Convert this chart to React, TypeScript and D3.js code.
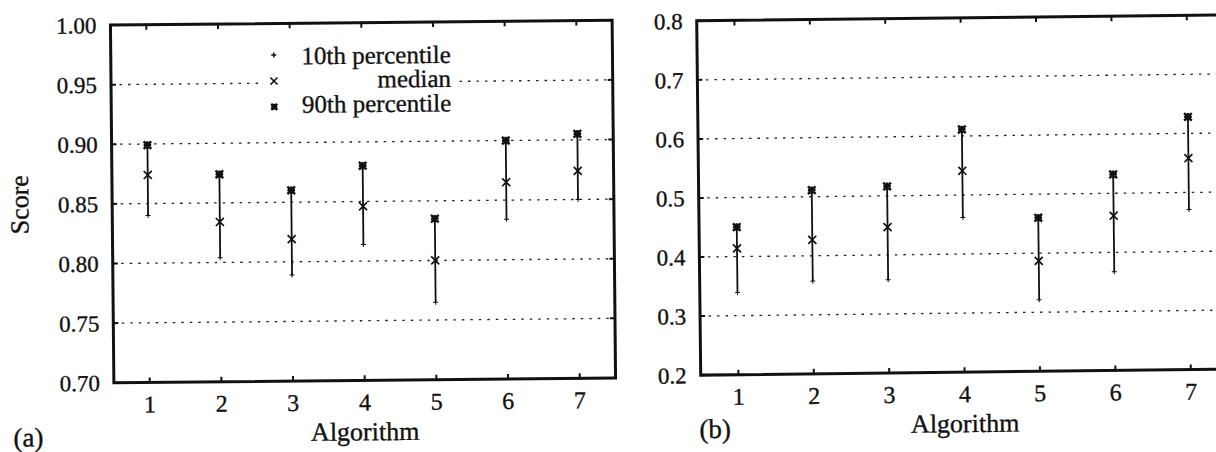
import React from 'react';
import * as d3 from 'd3';

// algorithm ids on the x axis
const algorithms = [1, 2, 3, 4, 5, 6, 7];

// panel (a)
const scoreP10 = [0.840, 0.804, 0.789, 0.814, 0.765, 0.834, 0.850];
const scoreMedian = [0.874, 0.834, 0.819, 0.846, 0.800, 0.865, 0.874];
const scoreP90 = [0.899, 0.874, 0.860, 0.880, 0.835, 0.900, 0.905];
const scoreTicks = [0.70, 0.75, 0.80, 0.85, 0.90, 0.95, 1.00];

// panel (b)
const secondP10 = [0.339, 0.357, 0.358, 0.462, 0.321, 0.367, 0.471];
const secondMedian = [0.414, 0.427, 0.447, 0.541, 0.387, 0.462, 0.558];
const secondP90 = [0.450, 0.511, 0.516, 0.611, 0.460, 0.532, 0.628];
const secondTicks = [0.2, 0.3, 0.4, 0.5, 0.6, 0.7, 0.8];

const legendLabels = ['10th percentile', 'median', '90th percentile'];

const FONT = '"Liberation Serif", "DejaVu Serif", "Times New Roman", serif';
const INK = '#111';

function Marker({ kind, x, y, s }: { kind: string; x: number; y: number; s: number }) {
  const plus = `M${x - s},${y}H${x + s}M${x},${y - s}V${y + s}`;
  const cross = `M${x - s},${y - s}L${x + s},${y + s}M${x - s},${y + s}L${x + s},${y - s}`;
  if (kind === 'plus') return <path d={plus} />;
  if (kind === 'cross') return <path d={cross} />;
  return <path d={plus + cross} strokeWidth={2.4} />;
}

function Panel(props: any) {
  const { cx, cy, w, h, angle, ticks, fmt, p10, med, p90, tag, tagX, score, legend } = props;
  const x = d3.scaleLinear().domain([0.5, 7.5]).range([0, w]);
  const y = d3.scaleLinear().domain([ticks[0], ticks[ticks.length - 1]]).range([h, 0]);
  const inner = ticks.slice(1, -1);

  return (
    <g transform={`translate(${cx},${cy}) rotate(${angle}) translate(${-w / 2},${-h / 2})`}
       style={{ fontFamily: FONT }} fill={INK}>
      {inner.map((t: number) => (
        <line key={'g' + t} x1={0} x2={w} y1={y(t)} y2={y(t)}
              stroke="#222" strokeWidth={1.3} strokeDasharray="2.5 6" />
      ))}

      {legend && (
        <g>
          <rect x={152} y={14} width={191} height={82} fill="white" />
          {legendLabels.map((lab, i) => (
            <g key={lab}>
              <g stroke={INK} strokeWidth={1.5} fill="none">
                <Marker kind={['plus', 'cross', 'star'][i]} x={163} y={[31.6, 57.6, 83.3][i]}
                        s={[2.5, 3.5, 3][i]} />
              </g>
              <text x={340} y={[41, 65, 89.5][i]} fontSize={25} textAnchor="end"
                    stroke={INK} strokeWidth={0.35}>{lab}</text>
            </g>
          ))}
        </g>
      )}

      {algorithms.map((a, i) => (
        <g key={'b' + a} stroke={INK} fill="none">
          <line x1={x(a)} x2={x(a)} y1={y(p10[i])} y2={y(p90[i])} strokeWidth={1.8} />
          <Marker kind="plus" x={x(a)} y={y(p10[i])} s={2.5} />
          <g strokeWidth={1.7}><Marker kind="cross" x={x(a)} y={y(med[i])} s={4} /></g>
          <Marker kind="star" x={x(a)} y={y(p90[i])} s={3.8} />
        </g>
      ))}

      <rect x={0} y={0} width={w} height={h} fill="none" stroke={INK} strokeWidth={3} />

      {algorithms.map((a) => (
        <g key={'xt' + a} stroke={INK} strokeWidth={2}>
          <line x1={x(a)} x2={x(a)} y1={0} y2={5} />
          <line x1={x(a)} x2={x(a)} y1={h} y2={h - 5} />
        </g>
      ))}
      {ticks.map((t: number) => (
        <g key={'yt' + t} stroke={INK} strokeWidth={2}>
          <line x1={0} x2={5} y1={y(t)} y2={y(t)} />
          <line x1={w} x2={w - 5} y1={y(t)} y2={y(t)} />
        </g>
      ))}

      <g stroke={INK} strokeWidth={0.35}>
        {ticks.map((t: number) => (
          <text key={'yl' + t} x={-14} y={y(t)} dy="0.35em" fontSize={23} textAnchor="end">
            {d3.format(fmt)(t)}
          </text>
        ))}
        {algorithms.map((a) => (
          <text key={'xl' + a} x={x(a)} y={h + 30} fontSize={24} textAnchor="middle">{a}</text>
        ))}

        <text x={w / 2} y={h + 60} fontSize={26} textAnchor="middle">Algorithm</text>
        {score && (
          <text transform={`translate(-93,${h / 2}) rotate(-90)`} dy="0.35em" fontSize={26}
                textAnchor="middle">Score</text>
        )}
        <text x={tagX} y={h + 63} fontSize={27}>{tag}</text>
      </g>
    </g>
  );
}

export default function App() {
  return (
    <svg width={1216} height={452} style={{ position: 'absolute', left: 0, top: 0, background: 'white' }}>
      <rect width={1216} height={452} fill="white" />
      <Panel cx={363} cy={201.5} w={501.7} h={357.7} angle={-0.55}
             ticks={scoreTicks} fmt=".2f" p10={scoreP10} med={scoreMedian} p90={scoreP90}
             tag="(a)" tagX={-101} score legend />
      <Panel cx={962.6} cy={195} w={527.8} h={354.3} angle={-0.65}
             ticks={secondTicks} fmt=".1f" p10={secondP10} med={secondMedian} p90={secondP90}
             tag="(b)" tagX={-2} />
    </svg>
  );
}
